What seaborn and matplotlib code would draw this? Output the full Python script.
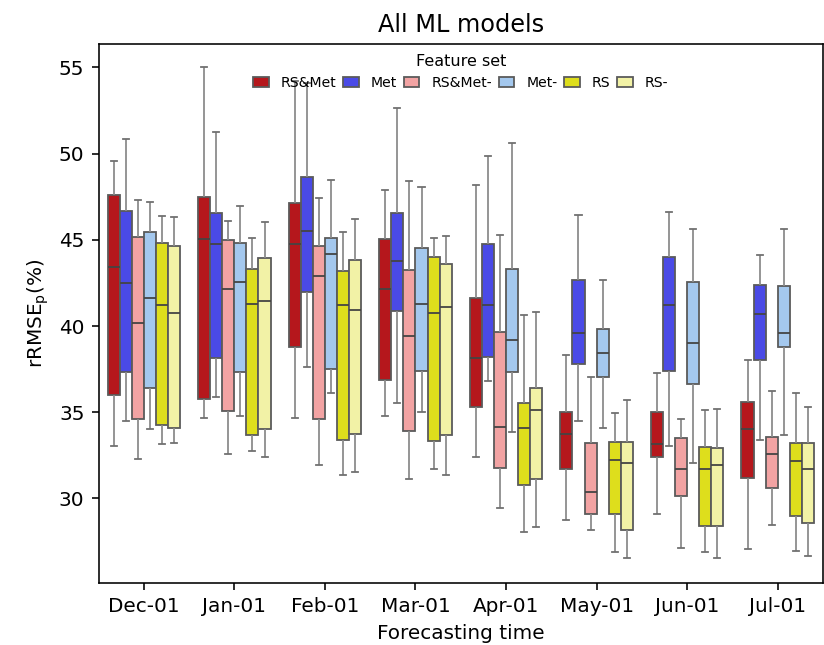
import matplotlib
matplotlib.use("Agg")
import matplotlib.pyplot as plt
import seaborn as sns
import pandas as pd

months = ["Dec-01", "Jan-01", "Feb-01", "Mar-01", "Apr-01", "May-01", "Jun-01", "Jul-01"]
feature_sets = ["RS&Met", "Met", "RS&Met-", "Met-", "RS", "RS-"]
colors = ["#b5171c", "#4a4ae6", "#f2a3a3", "#a4c8ee", "#dede1c", "#f2f2a6"]

# per month: (whisker low, Q1, median, Q3, whisker high)
rs_met = [(33.06, 36.02, 43.41, 47.62, 49.57), (34.69, 35.79, 45.02, 47.46, 55.01),
          (34.69, 38.77, 44.77, 47.13, 54.20), (34.77, 36.87, 42.14, 45.02, 47.91),
          (32.39, 35.28, 38.16, 41.63, 48.16), (28.75, 31.71, 33.76, 35.01, 38.33),
          (29.10, 32.39, 33.16, 35.01, 37.29), (27.06, 31.19, 34.01, 35.61, 38.01)]
met = [(34.49, 37.36, 42.47, 46.69, 50.87), (35.87, 38.15, 44.75, 46.53, 51.27),
       (37.65, 41.96, 45.52, 48.66, 54.10), (35.52, 40.86, 43.74, 46.53, 52.65),
       (36.79, 38.22, 41.21, 44.76, 49.86), (34.51, 37.81, 39.61, 42.66, 46.45),
       (33.06, 37.39, 41.21, 44.00, 46.62), (33.41, 38.01, 40.71, 42.39, 44.09)]
rs_met_minus = [(32.31, 34.59, 40.18, 45.18, 47.29), (32.56, 35.10, 42.12, 45.00, 46.11),
                (31.96, 34.59, 42.89, 44.65, 47.40), (31.14, 33.93, 39.43, 43.22, 48.41),
                (29.43, 31.79, 34.16, 39.67, 45.27), (28.16, 29.08, 30.36, 33.23, 37.06),
                (27.15, 30.16, 31.71, 33.49, 34.59), (28.48, 30.61, 32.58, 33.56, 36.21)]
met_minus = [(34.01, 36.39, 41.62, 45.43, 47.21), (34.77, 37.36, 42.56, 44.83, 46.96),
             (36.12, 37.49, 44.17, 45.08, 48.49), (35.02, 37.38, 41.29, 44.50, 48.08),
             (33.84, 37.31, 39.18, 43.32, 50.62), (34.08, 37.06, 38.41, 39.84, 42.66),
             (32.08, 36.62, 38.99, 42.54, 45.60), (33.68, 38.76, 39.61, 42.31, 45.60)]
rs = [(33.14, 34.26, 41.21, 44.83, 46.38), (32.73, 33.68, 41.29, 43.30, 45.10),
      (31.36, 33.41, 41.21, 43.20, 45.43), (31.73, 33.31, 40.78, 43.99, 45.12),
      (28.06, 30.78, 34.08, 35.51, 40.61), (26.88, 29.08, 32.23, 33.29, 34.93),
      (26.88, 28.41, 31.71, 32.98, 35.11), (26.98, 29.00, 32.15, 33.23, 36.13)]
rs_minus = [(33.22, 34.09, 40.78, 44.61, 46.30), (32.40, 34.01, 41.44, 43.92, 46.03),
            (31.53, 33.76, 40.94, 43.82, 46.22), (31.36, 33.68, 41.13, 43.57, 45.20),
            (28.33, 31.13, 35.11, 36.38, 40.79), (26.55, 28.17, 32.08, 33.29, 35.69),
            (26.55, 28.41, 31.96, 32.91, 35.19), (26.65, 28.58, 31.73, 33.23, 35.30)]

series = [rs_met, met, rs_met_minus, met_minus, rs, rs_minus]

rows = []
for fs, stats in zip(feature_sets, series):
    for m, s in zip(months, stats):
        for v in s:
            rows.append({"Forecasting time": m, "Feature set": fs, "value": v})
df = pd.DataFrame(rows)

fig = plt.figure(figsize=(824 / 144, 645 / 144), dpi=144)
ax = fig.add_axes([98.5 / 824, 1 - 583 / 645, (823 - 98.5) / 824, (583 - 44) / 645])

sns.boxplot(data=df, x="Forecasting time", y="value", hue="Feature set",
            order=months, hue_order=feature_sets, palette=colors, saturation=1,
            whis=(0, 100), width=0.8, linecolor="#5a5a5a", linewidth=0.9,
            whiskerprops={"color": "#8c8c8c"}, capprops={"color": "#707070"},
            medianprops={"color": "#444444"}, ax=ax)

ax.set_ylim(25.1, 56.35)
ax.set_yticks([30, 35, 40, 45, 50, 55])
ax.set_xlabel("Forecasting time", fontsize=10)
ax.set_ylabel(r"rRMSE$_\mathrm{p}$(%)", fontsize=10)
ax.set_title("All ML models", fontsize=12)

leg = ax.legend(title="Feature set", loc="upper center", ncol=6, frameon=False,
                fontsize=7, title_fontsize=8, handlelength=1.1, handletextpad=0.85,
                columnspacing=0.5, borderaxespad=0.3)

fig.savefig("out.png", dpi=144)
